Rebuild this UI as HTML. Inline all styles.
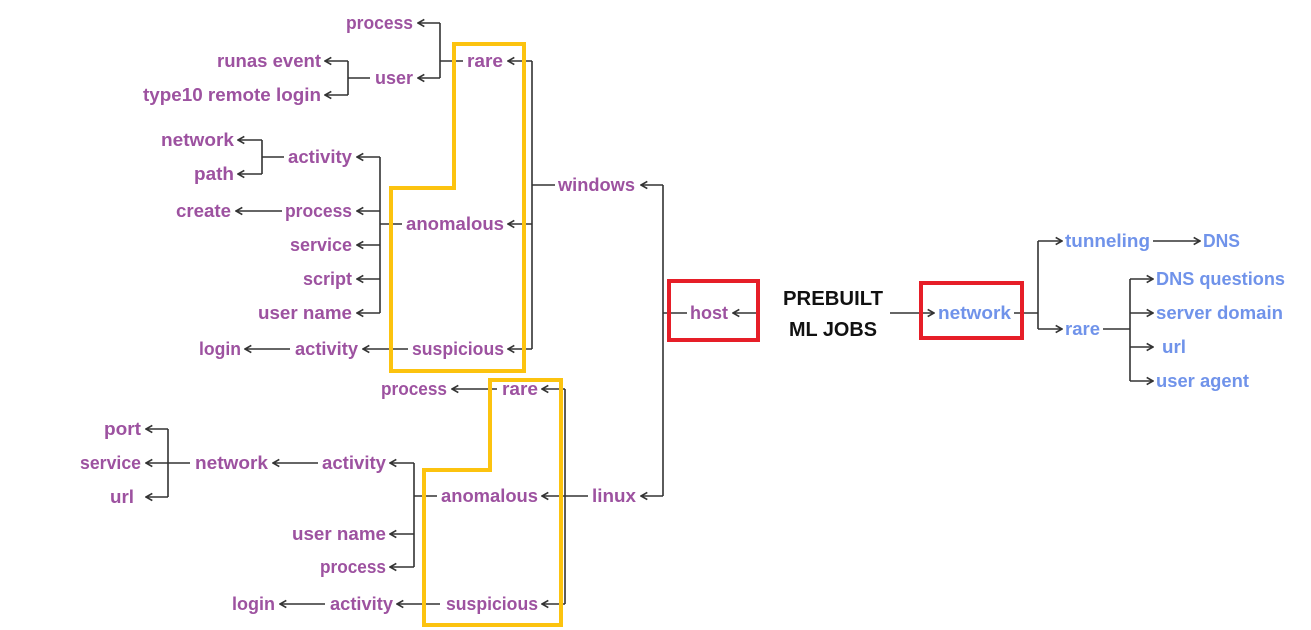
<!DOCTYPE html>
<html><head><meta charset="utf-8"><style>
html,body{margin:0;padding:0;background:#fff;}
svg{display:block;}
text{font-family:"Liberation Sans",sans-serif;font-size:18px;font-weight:bold;}
.p{fill:#9d52a0;}
.b{fill:#7093ea;}
.l{stroke:#333;stroke-width:1.6;fill:none;}
</style></head><body>
<svg width="1311" height="630" viewBox="0 0 1311 630" xmlns="http://www.w3.org/2000/svg">
<defs>
<marker id="a" viewBox="0 0 10 10" refX="9" refY="5" markerWidth="9" markerHeight="9" orient="auto" markerUnits="userSpaceOnUse">
<path d="M2,1 L9,5 L2,9" fill="none" stroke="#333" stroke-width="1.8"/></marker>
</defs>
<g class="l">
<path d="M463,61 H440 M440,23 V78"/>
<path d="M440,23 H418" marker-end="url(#a)"/>
<path d="M440,78 H418" marker-end="url(#a)"/>
<path d="M370,78 H348 M348,61 V95"/>
<path d="M348,61 H325" marker-end="url(#a)"/>
<path d="M348,95 H325" marker-end="url(#a)"/>
<path d="M284,157 H262 M262,140 V174"/>
<path d="M262,140 H238" marker-end="url(#a)"/>
<path d="M262,174 H238" marker-end="url(#a)"/>
<path d="M402,224 H380 M380,157 V313"/>
<path d="M380,157 H357" marker-end="url(#a)"/>
<path d="M380,211 H357" marker-end="url(#a)"/>
<path d="M380,245 H357" marker-end="url(#a)"/>
<path d="M380,279 H357" marker-end="url(#a)"/>
<path d="M380,313 H357" marker-end="url(#a)"/>
<path d="M282,211 H236" marker-end="url(#a)"/>
<path d="M408,349 H363" marker-end="url(#a)"/>
<path d="M290,349 H245" marker-end="url(#a)"/>
<path d="M555,185 H532 M532,61 V349"/>
<path d="M532,61 H508" marker-end="url(#a)"/>
<path d="M532,224 H508" marker-end="url(#a)"/>
<path d="M532,349 H508" marker-end="url(#a)"/>
<path d="M687,313 H663 M663,185 V496"/>
<path d="M663,185 H641" marker-end="url(#a)"/>
<path d="M663,496 H641" marker-end="url(#a)"/>
<path d="M757,313 H733" marker-end="url(#a)"/>
<path d="M588,496 H565 M565,389 V604"/>
<path d="M565,389 H542" marker-end="url(#a)"/>
<path d="M565,496 H542" marker-end="url(#a)"/>
<path d="M565,604 H542" marker-end="url(#a)"/>
<path d="M497,389 H452" marker-end="url(#a)"/>
<path d="M437,496 H414 M414,463 V567"/>
<path d="M414,463 H390" marker-end="url(#a)"/>
<path d="M414,534 H390" marker-end="url(#a)"/>
<path d="M414,567 H390" marker-end="url(#a)"/>
<path d="M318,463 H273" marker-end="url(#a)"/>
<path d="M190,463 H168 M168,429 V497"/>
<path d="M168,429 H146" marker-end="url(#a)"/>
<path d="M168,463 H146" marker-end="url(#a)"/>
<path d="M168,497 H146" marker-end="url(#a)"/>
<path d="M440,604 H397" marker-end="url(#a)"/>
<path d="M325,604 H280" marker-end="url(#a)"/>
<path d="M890,313 H934" marker-end="url(#a)"/>
<path d="M1014,313 H1038 M1038,241 V329"/>
<path d="M1038,241 H1062" marker-end="url(#a)"/>
<path d="M1038,329 H1062" marker-end="url(#a)"/>
<path d="M1153,241 H1200" marker-end="url(#a)"/>
<path d="M1103,329 H1130 M1130,279 V381"/>
<path d="M1130,279 H1153" marker-end="url(#a)"/>
<path d="M1130,313 H1153" marker-end="url(#a)"/>
<path d="M1130,347 H1153" marker-end="url(#a)"/>
<path d="M1130,381 H1153" marker-end="url(#a)"/>
</g>
<path d="M454,44 H524 V371 H391 V188 H454 Z" fill="none" stroke="#fcc30f" stroke-width="4"/>
<path d="M490,380 H561 V625 H424 V470 H490 Z" fill="none" stroke="#fcc30f" stroke-width="4"/>
<rect x="669" y="281" width="89" height="59" fill="none" stroke="#e61e28" stroke-width="4"/>
<rect x="921" y="283" width="101" height="55" fill="none" stroke="#e61e28" stroke-width="4"/>
<g class="p">
<text x="346" y="29" textLength="67" lengthAdjust="spacingAndGlyphs">process</text>
<text x="467" y="67" textLength="36" lengthAdjust="spacingAndGlyphs">rare</text>
<text x="375" y="84" textLength="38" lengthAdjust="spacingAndGlyphs">user</text>
<text x="217" y="67" textLength="104" lengthAdjust="spacingAndGlyphs">runas event</text>
<text x="143" y="101" textLength="178" lengthAdjust="spacingAndGlyphs">type10 remote login</text>
<text x="161" y="146" textLength="73" lengthAdjust="spacingAndGlyphs">network</text>
<text x="194" y="180" textLength="40" lengthAdjust="spacingAndGlyphs">path</text>
<text x="288" y="163" textLength="64" lengthAdjust="spacingAndGlyphs">activity</text>
<text x="176" y="217" textLength="55" lengthAdjust="spacingAndGlyphs">create</text>
<text x="285" y="217" textLength="67" lengthAdjust="spacingAndGlyphs">process</text>
<text x="290" y="251" textLength="62" lengthAdjust="spacingAndGlyphs">service</text>
<text x="303" y="285" textLength="49" lengthAdjust="spacingAndGlyphs">script</text>
<text x="258" y="319" textLength="94" lengthAdjust="spacingAndGlyphs">user name</text>
<text x="406" y="230" textLength="98" lengthAdjust="spacingAndGlyphs">anomalous</text>
<text x="412" y="355" textLength="92" lengthAdjust="spacingAndGlyphs">suspicious</text>
<text x="295" y="355" textLength="63" lengthAdjust="spacingAndGlyphs">activity</text>
<text x="199" y="355" textLength="42" lengthAdjust="spacingAndGlyphs">login</text>
<text x="558" y="191" textLength="77" lengthAdjust="spacingAndGlyphs">windows</text>
<text x="690" y="319" textLength="38" lengthAdjust="spacingAndGlyphs">host</text>
<text x="381" y="395" textLength="66" lengthAdjust="spacingAndGlyphs">process</text>
<text x="502" y="395" textLength="36" lengthAdjust="spacingAndGlyphs">rare</text>
<text x="592" y="502" textLength="44" lengthAdjust="spacingAndGlyphs">linux</text>
<text x="441" y="502" textLength="97" lengthAdjust="spacingAndGlyphs">anomalous</text>
<text x="446" y="610" textLength="92" lengthAdjust="spacingAndGlyphs">suspicious</text>
<text x="322" y="469" textLength="64" lengthAdjust="spacingAndGlyphs">activity</text>
<text x="292" y="540" textLength="94" lengthAdjust="spacingAndGlyphs">user name</text>
<text x="320" y="573" textLength="66" lengthAdjust="spacingAndGlyphs">process</text>
<text x="195" y="469" textLength="73" lengthAdjust="spacingAndGlyphs">network</text>
<text x="104" y="435" textLength="37" lengthAdjust="spacingAndGlyphs">port</text>
<text x="80" y="469" textLength="61" lengthAdjust="spacingAndGlyphs">service</text>
<text x="110" y="503" textLength="24" lengthAdjust="spacingAndGlyphs">url</text>
<text x="330" y="610" textLength="63" lengthAdjust="spacingAndGlyphs">activity</text>
<text x="232" y="610" textLength="43" lengthAdjust="spacingAndGlyphs">login</text>
</g>
<g class="b">
<text x="938" y="319" textLength="73" lengthAdjust="spacingAndGlyphs">network</text>
<text x="1065" y="247" textLength="85" lengthAdjust="spacingAndGlyphs">tunneling</text>
<text x="1203" y="247" textLength="37" lengthAdjust="spacingAndGlyphs">DNS</text>
<text x="1065" y="335" textLength="35" lengthAdjust="spacingAndGlyphs">rare</text>
<text x="1156" y="285" textLength="129" lengthAdjust="spacingAndGlyphs">DNS questions</text>
<text x="1156" y="319" textLength="127" lengthAdjust="spacingAndGlyphs">server domain</text>
<text x="1162" y="353" textLength="24" lengthAdjust="spacingAndGlyphs">url</text>
<text x="1156" y="387" textLength="93" lengthAdjust="spacingAndGlyphs">user agent</text>
</g>
<g fill="#111">
<text x="783" y="305" style="font-size:20px" textLength="100" lengthAdjust="spacingAndGlyphs">PREBUILT</text>
<text x="789" y="336" style="font-size:20px" textLength="88" lengthAdjust="spacingAndGlyphs">ML JOBS</text>
</g>
</svg>
</body></html>
